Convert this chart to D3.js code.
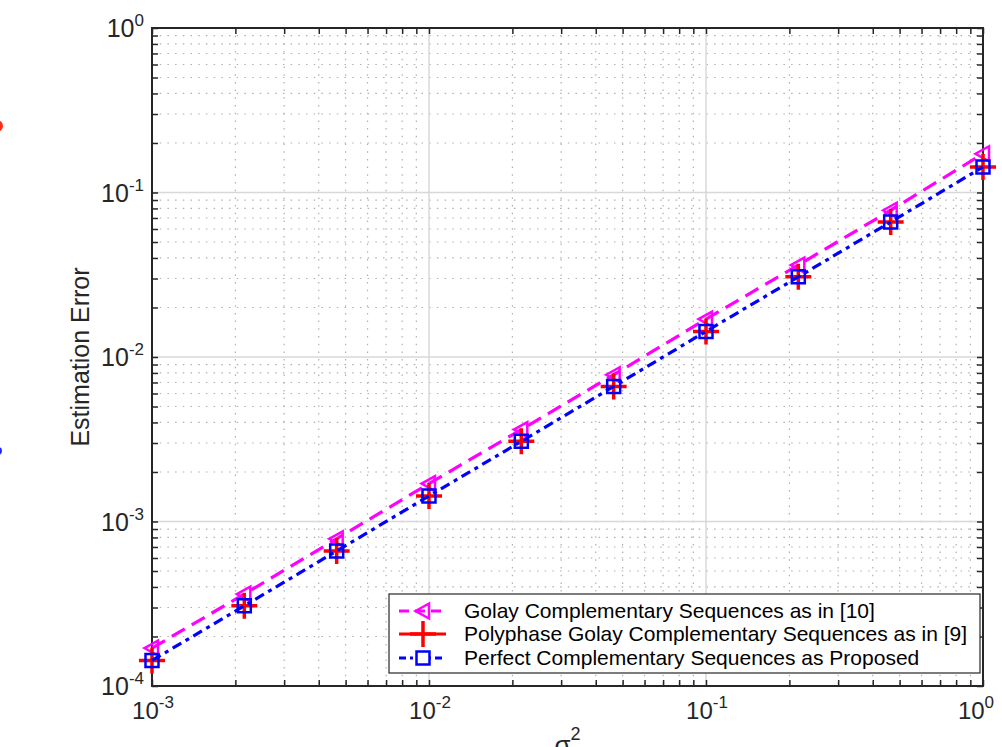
<!DOCTYPE html>
<html>
<head>
<meta charset="utf-8">
<script src="https://cdn.jsdelivr.net/npm/d3@7"></script>
<style>
  html, body { margin: 0; padding: 0; background: #fff; }
  svg { display: block; font-family: "Liberation Sans", Arial, Helvetica, sans-serif; }
</style>
</head>
<body>
<svg id="chart" width="1002" height="747"></svg>
<script>
// Noise variance (sigma^2) sample points
const sigma2 = [0.001, 0.002154, 0.004642, 0.01, 0.02154, 0.04642, 0.1, 0.2154, 0.4642, 1];
// Estimation error for each sequence family
const golayErr     = [1.70e-4, 3.62e-4, 7.85e-4, 1.70e-3, 3.62e-3, 7.80e-3, 1.70e-2, 3.62e-2, 7.80e-2, 0.172];
const polyphaseErr = [1.43e-4, 3.07e-4, 6.62e-4, 1.43e-3, 3.07e-3, 6.62e-3, 1.43e-2, 3.07e-2, 6.62e-2, 0.143];
const perfectErr   = [1.43e-4, 3.07e-4, 6.62e-4, 1.43e-3, 3.07e-3, 6.62e-3, 1.43e-2, 3.07e-2, 6.62e-2, 0.143];
const seriesNames = [
  "Golay Complementary Sequences as in [10]",
  "Polyphase Golay Complementary Sequences as in [9]",
  "Perfect Complementary Sequences as Proposed"
];
const xDecades = [-3, -2, -1, 0];
const yDecades = [-4, -3, -2, -1, 0];

const svg = d3.select("#chart");
const L = 152, R = 983, T = 28, B = 686;

const x = d3.scaleLog().domain([1e-3, 1]).range([L, R]);
const y = d3.scaleLog().domain([1e-4, 1]).range([B, T]);

// minor tick values (2..9 within each decade)
function minors(lo, hi) {
  const out = [];
  for (let e = lo; e < hi; e++) for (let m = 2; m <= 9; m++) out.push(m * Math.pow(10, e));
  return out;
}
const xMinor = minors(-3, 0), yMinor = minors(-4, 0);
const xMajor = xDecades.map(e => Math.pow(10, e));
const yMajor = yDecades.map(e => Math.pow(10, e));

// partial marks at the left edge
svg.append("circle").attr("cx", -3).attr("cy", 126).attr("r", 6).attr("fill", "#ff2a1a");
svg.append("circle").attr("cx", -2).attr("cy", 451).attr("r", 4).attr("fill", "#1a2aff");

const grid = svg.append("g");
// minor grid (dotted)
grid.selectAll(".xm").data(xMinor).join("line")
  .attr("x1", d => x(d)).attr("x2", d => x(d)).attr("y1", T).attr("y2", B)
  .attr("stroke", "#b0b0b0").attr("stroke-width", 1.2).attr("stroke-dasharray", "1.5,6.2");
grid.selectAll(".ym").data(yMinor).join("line")
  .attr("y1", d => y(d)).attr("y2", d => y(d)).attr("x1", L).attr("x2", R)
  .attr("stroke", "#b0b0b0").attr("stroke-width", 1.2).attr("stroke-dasharray", "1.5,6.2");
// major grid (solid, light)
grid.selectAll(".xM").data(xMajor).join("line")
  .attr("x1", d => x(d)).attr("x2", d => x(d)).attr("y1", T).attr("y2", B)
  .attr("stroke", "#d8d8d8").attr("stroke-width", 1.5);
grid.selectAll(".yM").data(yMajor).join("line")
  .attr("y1", d => y(d)).attr("y2", d => y(d)).attr("x1", L).attr("x2", R)
  .attr("stroke", "#d8d8d8").attr("stroke-width", 1.5);

// axes with inward ticks on all four sides
function styleAxis(g) {
  g.select(".domain").remove();
  g.selectAll(".tick line").attr("stroke", "#262626").attr("stroke-width", 1.5);
  g.selectAll(".tick text").remove();
}
const allX = xMajor.concat(xMinor), allY = yMajor.concat(yMinor);
svg.append("g").attr("transform", `translate(0,${B})`)
  .call(d3.axisBottom(x).tickValues(allX).tickSize(-6)).call(styleAxis);
svg.append("g").attr("transform", `translate(0,${T})`)
  .call(d3.axisTop(x).tickValues(allX).tickSize(-6)).call(styleAxis);
svg.append("g").attr("transform", `translate(${L},0)`)
  .call(d3.axisLeft(y).tickValues(allY).tickSize(-6)).call(styleAxis);
svg.append("g").attr("transform", `translate(${R},0)`)
  .call(d3.axisRight(y).tickValues(allY).tickSize(-6)).call(styleAxis);

svg.append("rect").attr("x", L).attr("y", T).attr("width", R - L).attr("height", B - T)
  .attr("fill", "none").attr("stroke", "#262626").attr("stroke-width", 2);

// tick labels as 10^e
function powLabel(g, e, anchor, base, sup) {
  const t = g.append("text").attr("fill", "#262626").attr("text-anchor", anchor);
  t.append("tspan").attr("font-size", base).text("10");
  t.append("tspan").attr("font-size", sup).attr("dy", -11).text(e);
  return t;
}
yDecades.forEach(e => {
  powLabel(svg, e, "end", 25, 17).attr("x", 144).attr("y", y(Math.pow(10, e)) + 9);
});
xDecades.forEach(e => {
  const t = powLabel(svg, e, "middle", 24, 17).attr("y", 719);
  // keep the rightmost label inside the canvas
  t.attr("x", e === 0 ? x(1) - 7 : x(Math.pow(10, e)) + 1);
});

// axis titles
svg.append("text").attr("transform", `translate(89,${(T + B) / 2}) rotate(-90)`)
  .attr("text-anchor", "middle").attr("font-size", 25).attr("fill", "#262626")
  .text("Estimation Error");
const xt = svg.append("text").attr("x", (L + R) / 2).attr("y", 754)
  .attr("text-anchor", "middle").attr("fill", "#262626");
xt.append("tspan").attr("font-size", 26).text("σ");
xt.append("tspan").attr("font-size", 18).attr("dy", -14).text("2");

// marker shapes
const triLeft = s => `M${-s},0L${s * 0.8},${-s}L${s * 0.8},${s}Z`;
const plus = s => `M${-s},0H${s}M0,${-s}V${s}`;
const square = s => `M${-s},${-s}H${s}V${s}H${-s}Z`;

const series = [
  { name: seriesNames[0], vals: golayErr, color: "#ff00ff", dash: "15,8", marker: triLeft(7.5), mw: 2.5, lw: 3.2, drawLine: true },
  { name: seriesNames[1], vals: polyphaseErr, color: "#ff0000", dash: null, marker: plus(13), mw: 3.5, lw: 3.2, drawLine: false },
  { name: seriesNames[2], vals: perfectErr, color: "#0000ff", dash: "10,5,4,5", marker: square(6.5), mw: 2.5, lw: 3.2, drawLine: true }
];

const line = d3.line().x(d => x(d[0])).y(d => y(d[1]));
const plot = svg.append("g");
series.forEach(s => {
  const pts = sigma2.map((v, i) => [v, s.vals[i]]);
  if (s.drawLine) {
    plot.append("path").datum(pts).attr("d", line)
      .attr("fill", "none").attr("stroke", s.color).attr("stroke-width", s.lw)
      .attr("stroke-dasharray", s.dash);
  }
  plot.selectAll(null).data(pts).join("path")
    .attr("transform", d => `translate(${x(d[0])},${y(d[1])})`)
    .attr("d", s.marker).attr("fill", "none")
    .attr("stroke", s.color).attr("stroke-width", s.mw);
});

// legend
const lg = svg.append("g");
lg.append("rect").attr("x", 389).attr("y", 594).attr("width", 591).attr("height", 79)
  .attr("fill", "#fff").attr("stroke", "#262626").attr("stroke-width", 1.2);
const rowY = [611, 634, 658];
series.forEach((s, i) => {
  const yy = rowY[i];
  lg.append("line").attr("x1", 399).attr("x2", 446).attr("y1", yy).attr("y2", yy)
    .attr("stroke", s.color).attr("stroke-width", s.lw)
    .attr("stroke-dasharray", i === 2 ? "7,4,3,4" : (s.dash ? "10,6" : null));
  lg.append("path").attr("transform", `translate(423,${yy})`).attr("d", s.marker)
    .attr("fill", i === 2 ? "#fff" : "none").attr("stroke", s.color).attr("stroke-width", s.mw);
  lg.append("text").attr("x", 464).attr("y", yy + 7).attr("font-size", 21)
    .attr("fill", "#000").text(s.name);
});
</script>
</body>
</html>
